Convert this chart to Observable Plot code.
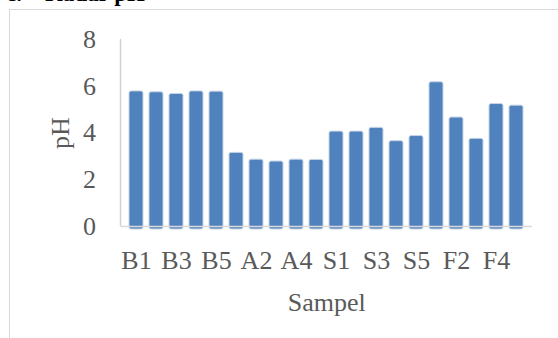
<!DOCTYPE html>
<html>
<head>
<meta charset="utf-8">
<script src="https://cdn.jsdelivr.net/npm/d3@7"></script>
<script src="https://cdn.jsdelivr.net/npm/@observablehq/plot@0.6"></script>
<style>
  html, body { margin: 0; padding: 0; background: #fff; }
  #wrap { position: relative; width: 558px; height: 338px; overflow: hidden; }
  #frame { position: absolute; left: 9px; top: 9px; width: 600px; height: 400px;
           border-top: 1.5px solid #d9d9d9; border-left: 1.5px solid #d9d9d9; box-sizing: border-box; }
  #title { position: absolute; left: 6px; top: -19px; font-family: "Liberation Serif", serif;
           font-weight: bold; font-size: 23px; color: #000; white-space: pre; }
  #chart { position: absolute; left: 0; top: 0; }
</style>
</head>
<body>
<div id="wrap">
  <div id="frame"></div>
  <div id="title">c.    Kadar pH</div>
  <div id="chart"></div>
</div>
<script>
const samples = ["B1","B2","B3","B4","B5","A1","A2","A3","A4","A5","S1","S2","S3","S4","S5","F1","F2","F3","F4","F5"];
const phValues = [5.78,5.74,5.67,5.78,5.77,3.15,2.86,2.78,2.86,2.85,4.06,4.06,4.22,3.65,3.87,6.17,4.66,3.75,5.24,5.17];
const xTickLabels = ["B1","B3","B5","A2","A4","S1","S3","S5","F2","F4"];
const yTicks = [0,2,4,6,8];

const data = samples.map((s, i) => ({sample: s, ph: phValues[i]}));
const font = "'Liberation Serif', serif";
const fs = 26;

function yAxisLine(index, scales, values, dim) {
  const line = document.createElementNS("http://www.w3.org/2000/svg", "line");
  const x = dim.marginLeft;
  line.setAttribute("x1", x);
  line.setAttribute("x2", x);
  line.setAttribute("y1", scales.y(8));
  line.setAttribute("y2", scales.y(0));
  line.setAttribute("stroke", "#d0d0d0");
  line.setAttribute("stroke-width", 1.5);
  return line;
}

const chart = Plot.plot({
  width: 558,
  height: 338,
  marginLeft: 120.5,
  marginRight: 26,
  marginTop: 39,
  marginBottom: 112,
  style: {fontFamily: font, fontSize: fs + "px", color: "#595959", background: "transparent"},
  x: {domain: samples, paddingInner: 0.295, paddingOuter: 0.1475, label: null},
  y: {domain: [0, 8], label: null},
  marks: [
    Plot.barY(data, {x: "sample", y: "ph", fill: "#4F81BD", stroke: "#c6d4e6", strokeWidth: 1, rx: 2, insetBottom: -3}),
    Plot.ruleY([0], {stroke: "#d9d9d9", strokeWidth: 1.5}),
    yAxisLine,
    Plot.axisY(yTicks, {tickSize: 0, tickPadding: 25, fontSize: fs, fill: "#595959", label: null}),
    Plot.axisX(xTickLabels, {tickSize: 0, tickPadding: 24, fontSize: fs, fill: "#595959", label: null}),
    Plot.text(["Sampel"], {frameAnchor: "bottom", dy: 84, fontSize: fs, fill: "#595959"}),
    Plot.text(["pH"], {frameAnchor: "left", textAnchor: "middle", dx: -60, rotate: -90, fontSize: fs, fill: "#595959"})
  ]
});
document.getElementById("chart").appendChild(chart);
</script>
</body>
</html>
